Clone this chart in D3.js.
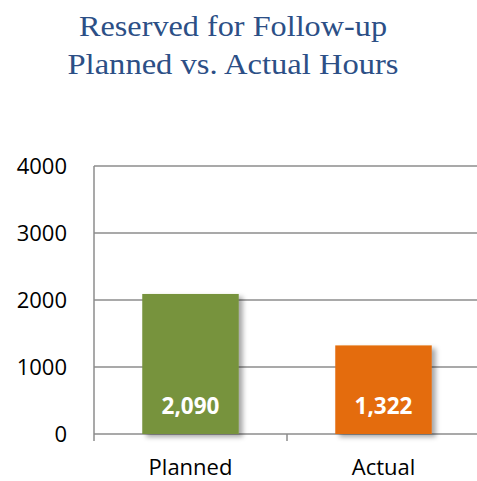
<!DOCTYPE html>
<html>
<head>
<meta charset="utf-8">
<script src="https://cdn.jsdelivr.net/npm/d3@7"></script>
<style>
  body { margin: 0; background: #fff; }
  svg { display: block; }
</style>
</head>
<body>
<div id="container"></div>
<script>
// chart data
var categories = ["Planned", "Actual"];
var hours = [2090, 1322];
var barColors = ["#77933c", "#e46c0a"];
var yTicks = [0, 1000, 2000, 3000, 4000];
var titleLines = ["Reserved for Follow-up", "Planned vs. Actual Hours"];

var w = 477, h = 481;
var svg = d3.select("#container").append("svg")
    .attr("width", w).attr("height", h);

// drop shadow for the bars
var defs = svg.append("defs");
var f = defs.append("filter").attr("id", "shadow")
    .attr("x", "-20%").attr("y", "-20%").attr("width", "150%").attr("height", "150%");
f.append("feDropShadow").attr("dx", 4).attr("dy", 3).attr("stdDeviation", 2.5)
    .attr("flood-color", "#000").attr("flood-opacity", 0.35);

// title (serif, stretched a bit to the original's book-style width)
var titleWidths = [308, 331];
svg.append("g").selectAll("text")
  .data(titleLines)
  .enter().append("text")
    .attr("x", 233)
    .attr("y", function(d, i) { return 36 + i * 38; })
    .attr("text-anchor", "middle")
    .attr("font-family", "'Liberation Serif', serif")
    .attr("font-size", 29)
    .attr("fill", "#2c4f86")
    .attr("textLength", function(d, i) { return titleWidths[i]; })
    .attr("lengthAdjust", "spacingAndGlyphs")
    .text(function(d) { return d; });

var x = d3.scaleBand().domain(categories).range([94, 480]);
var y = d3.scaleLinear().domain([0, 4000]).range([434, 166]);

// gridlines
svg.append("g").selectAll("line")
  .data(yTicks)
  .enter().append("line")
    .attr("x1", 94).attr("x2", 480)
    .attr("y1", function(d) { return y(d); })
    .attr("y2", function(d) { return y(d); })
    .attr("stroke", "#8c8c8c").attr("stroke-width", 1.5);

// y axis line + labels
svg.append("line").attr("x1", 94).attr("x2", 94).attr("y1", 166).attr("y2", 441)
    .attr("stroke", "#8c8c8c").attr("stroke-width", 1.5);
svg.append("g").selectAll("text")
  .data(yTicks)
  .enter().append("text")
    .attr("x", 67)
    .attr("y", function(d) { return y(d) + 7.5; })
    .attr("text-anchor", "end")
    .attr("font-family", "'Open Sans', sans-serif")
    .attr("font-size", 22)
    .attr("fill", "#000")
    .text(function(d) { return d; });

// category ticks below baseline
var catEdges = categories.map(function(c) { return x(c); }).concat([x.range()[1]]);
svg.append("g").selectAll("line")
  .data(catEdges.slice(1))
  .enter().append("line")
    .attr("x1", function(d) { return d; }).attr("x2", function(d) { return d; })
    .attr("y1", 434).attr("y2", 441)
    .attr("stroke", "#8c8c8c").attr("stroke-width", 1.5);

// bars
var barW = x.bandwidth() * 0.5;
svg.append("g").selectAll("rect")
  .data(hours)
  .enter().append("rect")
    .attr("x", function(d, i) { return x(categories[i]) + x.bandwidth() / 2 - barW / 2; })
    .attr("y", function(d) { return y(d); })
    .attr("width", barW)
    .attr("height", function(d) { return y(0) - y(d); })
    .attr("fill", function(d, i) { return barColors[i]; })
    .attr("filter", "url(#shadow)");

// value labels
svg.append("g").selectAll("text")
  .data(hours)
  .enter().append("text")
    .attr("x", function(d, i) { return x(categories[i]) + x.bandwidth() / 2; })
    .attr("y", 414)
    .attr("text-anchor", "middle")
    .attr("font-family", "'Open Sans', sans-serif")
    .attr("font-weight", "bold")
    .attr("font-size", 22.5)
    .attr("fill", "#fff")
    .text(function(d) { return d3.format(",")(d); });

// category labels
svg.append("g").selectAll("text")
  .data(categories)
  .enter().append("text")
    .attr("x", function(d) { return x(d) + x.bandwidth() / 2; })
    .attr("y", 475)
    .attr("text-anchor", "middle")
    .attr("font-family", "'Open Sans', sans-serif")
    .attr("font-size", 22)
    .attr("fill", "#000")
    .text(function(d) { return d; });
</script>
</body>
</html>
